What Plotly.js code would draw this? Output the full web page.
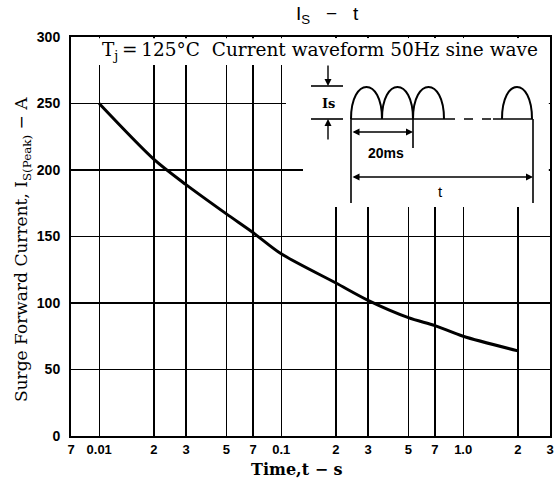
<!DOCTYPE html>
<html><head><meta charset="utf-8">
<script src="https://cdn.plot.ly/plotly-3.0.1.min.js"></script>
<style>html,body{margin:0;padding:0;background:#fff}#chart{width:555px;height:488px}</style>
</head><body><div id="chart"></div>
<script>
// ---- data ----
const timeS  = [0.01, 0.02, 0.03, 0.05, 0.07, 0.1, 0.2, 0.3, 0.5, 0.7, 1.0, 2.0];
const surgeA = [250, 208, 189, 167, 153, 137, 115, 102, 89, 83, 75, 64];
const xTickVals = [0.007, 0.01, 0.02, 0.03, 0.05, 0.07, 0.1, 0.2, 0.3, 0.5, 0.7, 1, 2, 3];
const xTickText = ['7', '0.01', '2', '3', '5', '7', '0.1', '2', '3', '5', '7', '1.0', '2', '3'];
const yTickVals = [0, 50, 100, 150, 200, 250, 300];
const yTickText = ['0', '50', '100', '150', '200', '250', '300'];

// ---- layout helpers (pixel -> paper) ----
const W = 555, H = 488, M = {l: 71, r: 5, t: 37, b: 52};
const pw = W - M.l - M.r, ph = H - M.t - M.b;
const px = x => (x - M.l) / pw;
const py = y => (H - M.b - y) / ph;

const serif = 'DejaVu Serif';
const sans = 'Liberation Sans';
const shapes = [];
const annotations = [];

function whiteRect(x0, y0, x1, y1) {
  shapes.push({type: 'rect', xref: 'paper', yref: 'paper', layer: 'above',
    x0: px(x0), x1: px(x1), y0: py(y1), y1: py(y0),
    fillcolor: '#fff', line: {width: 0}});
}
function seg(x0, y0, x1, y1, dash) {
  shapes.push({type: 'line', xref: 'paper', yref: 'paper', layer: 'above',
    x0: px(x0), y0: py(y0), x1: px(x1), y1: py(y1),
    line: {color: '#000', width: 1.6, dash: dash || 'solid'}});
}
function hump(x0, x1, baseY, topY) {
  const c = baseY - (baseY - topY) * 4 / 3;
  const p = `M ${px(x0)} ${py(baseY)} C ${px(x0)} ${py(c)} ${px(x1)} ${py(c)} ${px(x1)} ${py(baseY)}`;
  shapes.push({type: 'path', xref: 'paper', yref: 'paper', layer: 'above', path: p,
    line: {color: '#000', width: 2}});
}
function arrow(hx, hy, tx, ty, both) {
  annotations.push({xref: 'paper', yref: 'paper', x: px(hx), y: py(hy),
    ax: tx - hx, ay: ty - hy, axref: 'pixel', ayref: 'pixel', text: '',
    showarrow: true, arrowhead: 2, arrowsize: 1, arrowwidth: 1.4, arrowcolor: '#000',
    arrowside: both ? 'end+start' : 'end'});
}
function label(x, y, text, font, extra) {
  annotations.push(Object.assign({xref: 'paper', yref: 'paper', x: px(x), y: py(y),
    text: text, showarrow: false, xanchor: 'center', yanchor: 'middle', font: font}, extra || {}));
}

// white areas hiding the grid behind the notes
whiteRect(M.l + 1.2, M.t + 1.2, W - M.r - 1.2, 65);
whiteRect(286, M.t + 1.2, W - M.r - 1.2, 166);
whiteRect(303, 160, W - M.r - 1.2, 207);

// inset waveform diagram
const baseY = 119, topY = 87;
hump(351, 382, baseY, topY);
hump(382, 413, baseY, topY);
hump(413, 444, baseY, topY);
hump(502, 532, baseY, topY);
seg(351, baseY, 446, baseY);
seg(446, baseY, 493, baseY, 'dash');
seg(493, baseY, 533, baseY);
seg(311, topY - 1, 343, topY - 1);
seg(311, baseY, 343, baseY);
seg(351, baseY, 351, 203);
seg(413, baseY, 413, 148);
seg(533, baseY, 533, 203);
arrow(328, topY - 1, 328, 64);
arrow(328, baseY, 328, 141);
arrow(413, 132, 351, 132, true);
arrow(533, 177, 351, 177, true);
label(328, 103, 'Is', {family: serif, size: 13, weight: 'bold', color: '#000'});
label(386, 153, '20ms', {family: sans, size: 14, weight: 'bold', color: '#000'});
label(440, 191, 't', {family: sans, size: 15, color: '#000'});

// texts
label(320, 51, 'T<sub>j</sub>\u2009=\u2009125°C\u00a0 Current waveform 50Hz sine wave',
  {family: serif, size: 18.5, color: '#000'});
label(327, 15, 'I<sub>S</sub>\u00a0\u00a0\u00a0\u2212\u00a0\u00a0\u00a0t', {family: sans, size: 19, color: '#000'});
label(22, 250, 'Surge Forward Current, I<sub>S(Peak)</sub> \u2212 A',
  {family: serif, size: 17, color: '#000'}, {textangle: -90});
label(297, 470, 'Time,t \u2212 s', {family: serif, size: 16, weight: 'bold', color: '#000'});

const trace = {
  x: timeS, y: surgeA, type: 'scatter', mode: 'lines',
  line: {color: '#000', width: 3, shape: 'spline', smoothing: 0.8},
  hoverinfo: 'x+y'
};

const layout = {
  width: W, height: H, margin: M,
  paper_bgcolor: '#fff', plot_bgcolor: '#fff',
  showlegend: false,
  xaxis: {
    type: 'log', range: [Math.log10(0.007), Math.log10(3)],
    tickmode: 'array', tickvals: xTickVals, ticktext: xTickText,
    showgrid: true, gridcolor: '#000', gridwidth: 1.3,
    showline: true, linecolor: '#000', linewidth: 2, mirror: true,
    ticks: '', ticklabelstandoff: 0, zeroline: false,
    tickfont: {family: sans, size: 13, weight: 'bold', color: '#000'}
  },
  yaxis: {
    range: [0, 300], tickmode: 'array', tickvals: yTickVals, ticktext: yTickText,
    showgrid: true, gridcolor: '#000', gridwidth: 1.3,
    showline: true, linecolor: '#000', linewidth: 2, mirror: true,
    ticks: '', ticklabelstandoff: 6, zeroline: false,
    tickfont: {family: sans, size: 14, weight: 'bold', color: '#000'}
  },
  shapes: shapes,
  annotations: annotations
};

Plotly.newPlot('chart', [trace], layout, {displayModeBar: false, staticPlot: true});
</script></body></html>
